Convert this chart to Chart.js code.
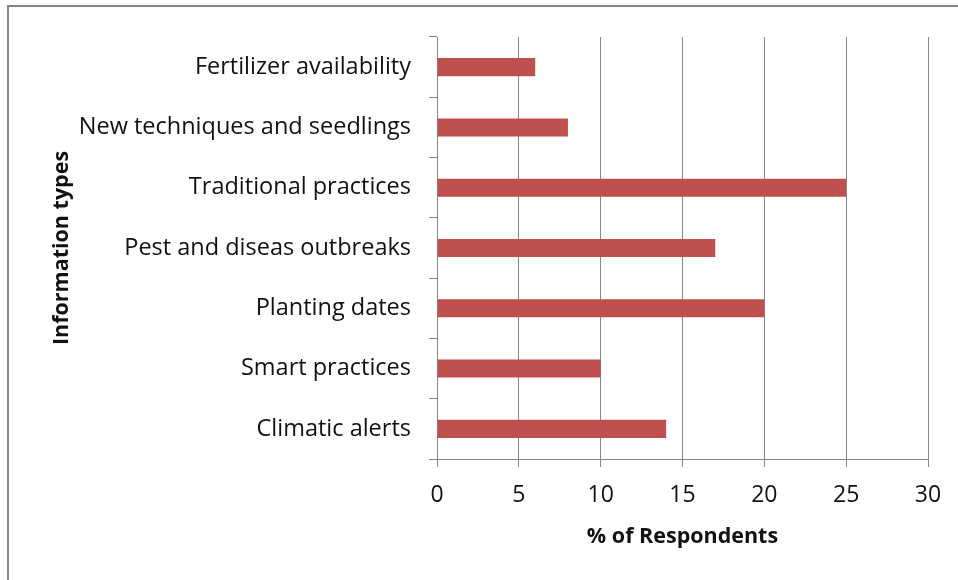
<!DOCTYPE html>
<html>
<head>
<meta charset="utf-8">
<script src="https://cdn.jsdelivr.net/npm/chart.js@4/dist/chart.umd.min.js"></script>
<style>
  html, body { margin: 0; padding: 0; background: #fff; overflow: hidden; }
  #wrap { position: relative; width: 958px; height: 580px; }
  #frame { position: absolute; left: 7px; top: 5px; width: 1200px; height: 1200px; border: 2px solid #868686; box-sizing: border-box; pointer-events: none; }
  canvas { position: absolute; left: 0; top: 0; }
</style>
</head>
<body>
<div id="wrap">
  <canvas id="c" width="958" height="580"></canvas>
  <div id="frame"></div>
</div>
<script>
const categories = [
  "Fertilizer availability",
  "New techniques and seedlings",
  "Traditional practices",
  "Pest and diseas outbreaks",
  "Planting dates",
  "Smart practices",
  "Climatic alerts"
];
const respondents = [6, 8, 25, 17, 20, 10, 14];
const xTicks = [0, 5, 10, 15, 20, 25, 30];
const xTitle = "% of Respondents";
const yTitle = "Information types";

const FONT = "'Open Sans', sans-serif";
const GREY = '#868686';

new Chart(document.getElementById('c'), {
  type: 'bar',
  data: {
    labels: categories,
    datasets: [{
      data: respondents,
      backgroundColor: '#C0504D',
      borderWidth: 0,
      barPercentage: 0.3,
      categoryPercentage: 1.0
    }]
  },
  options: {
    indexAxis: 'y',
    responsive: false,
    animation: false,
    devicePixelRatio: 1,
    layout: { padding: { top: 37, right: 30, left: 0, bottom: 0 } },
    plugins: { legend: { display: false }, tooltip: { enabled: false } },
    scales: {
      x: {
        min: 0, max: 30,
        afterBuildTicks: (s) => { s.ticks = xTicks.map(v => ({ value: v })); },
        afterFit: (s) => { s.height = 121; },
        grid: { color: GREY, lineWidth: 1, tickLength: 8, drawTicks: true },
        border: { display: true, color: GREY, width: 1 },
        ticks: { color: '#111', font: { family: FONT, size: 23 }, padding: 15, maxRotation: 0 },
        title: { display: true, text: xTitle, color: '#111', font: { family: FONT, size: 21.5, weight: 'bold' }, padding: { top: 0, bottom: 30 } }
      },
      y: {
        afterFit: (s) => { s.width = 437; },
        grid: { drawOnChartArea: false, drawTicks: true, tickLength: 8, color: GREY, offset: true },
        border: { display: true, color: GREY, width: 1 },
        ticks: { color: '#111', font: { family: FONT, size: 23.5 }, padding: 18 },
        title: { display: true, text: yTitle, color: '#111', font: { family: FONT, size: 21.5, weight: 'bold' }, padding: { top: 49, bottom: 0 } }
      }
    }
  }
});
</script>
</body>
</html>
